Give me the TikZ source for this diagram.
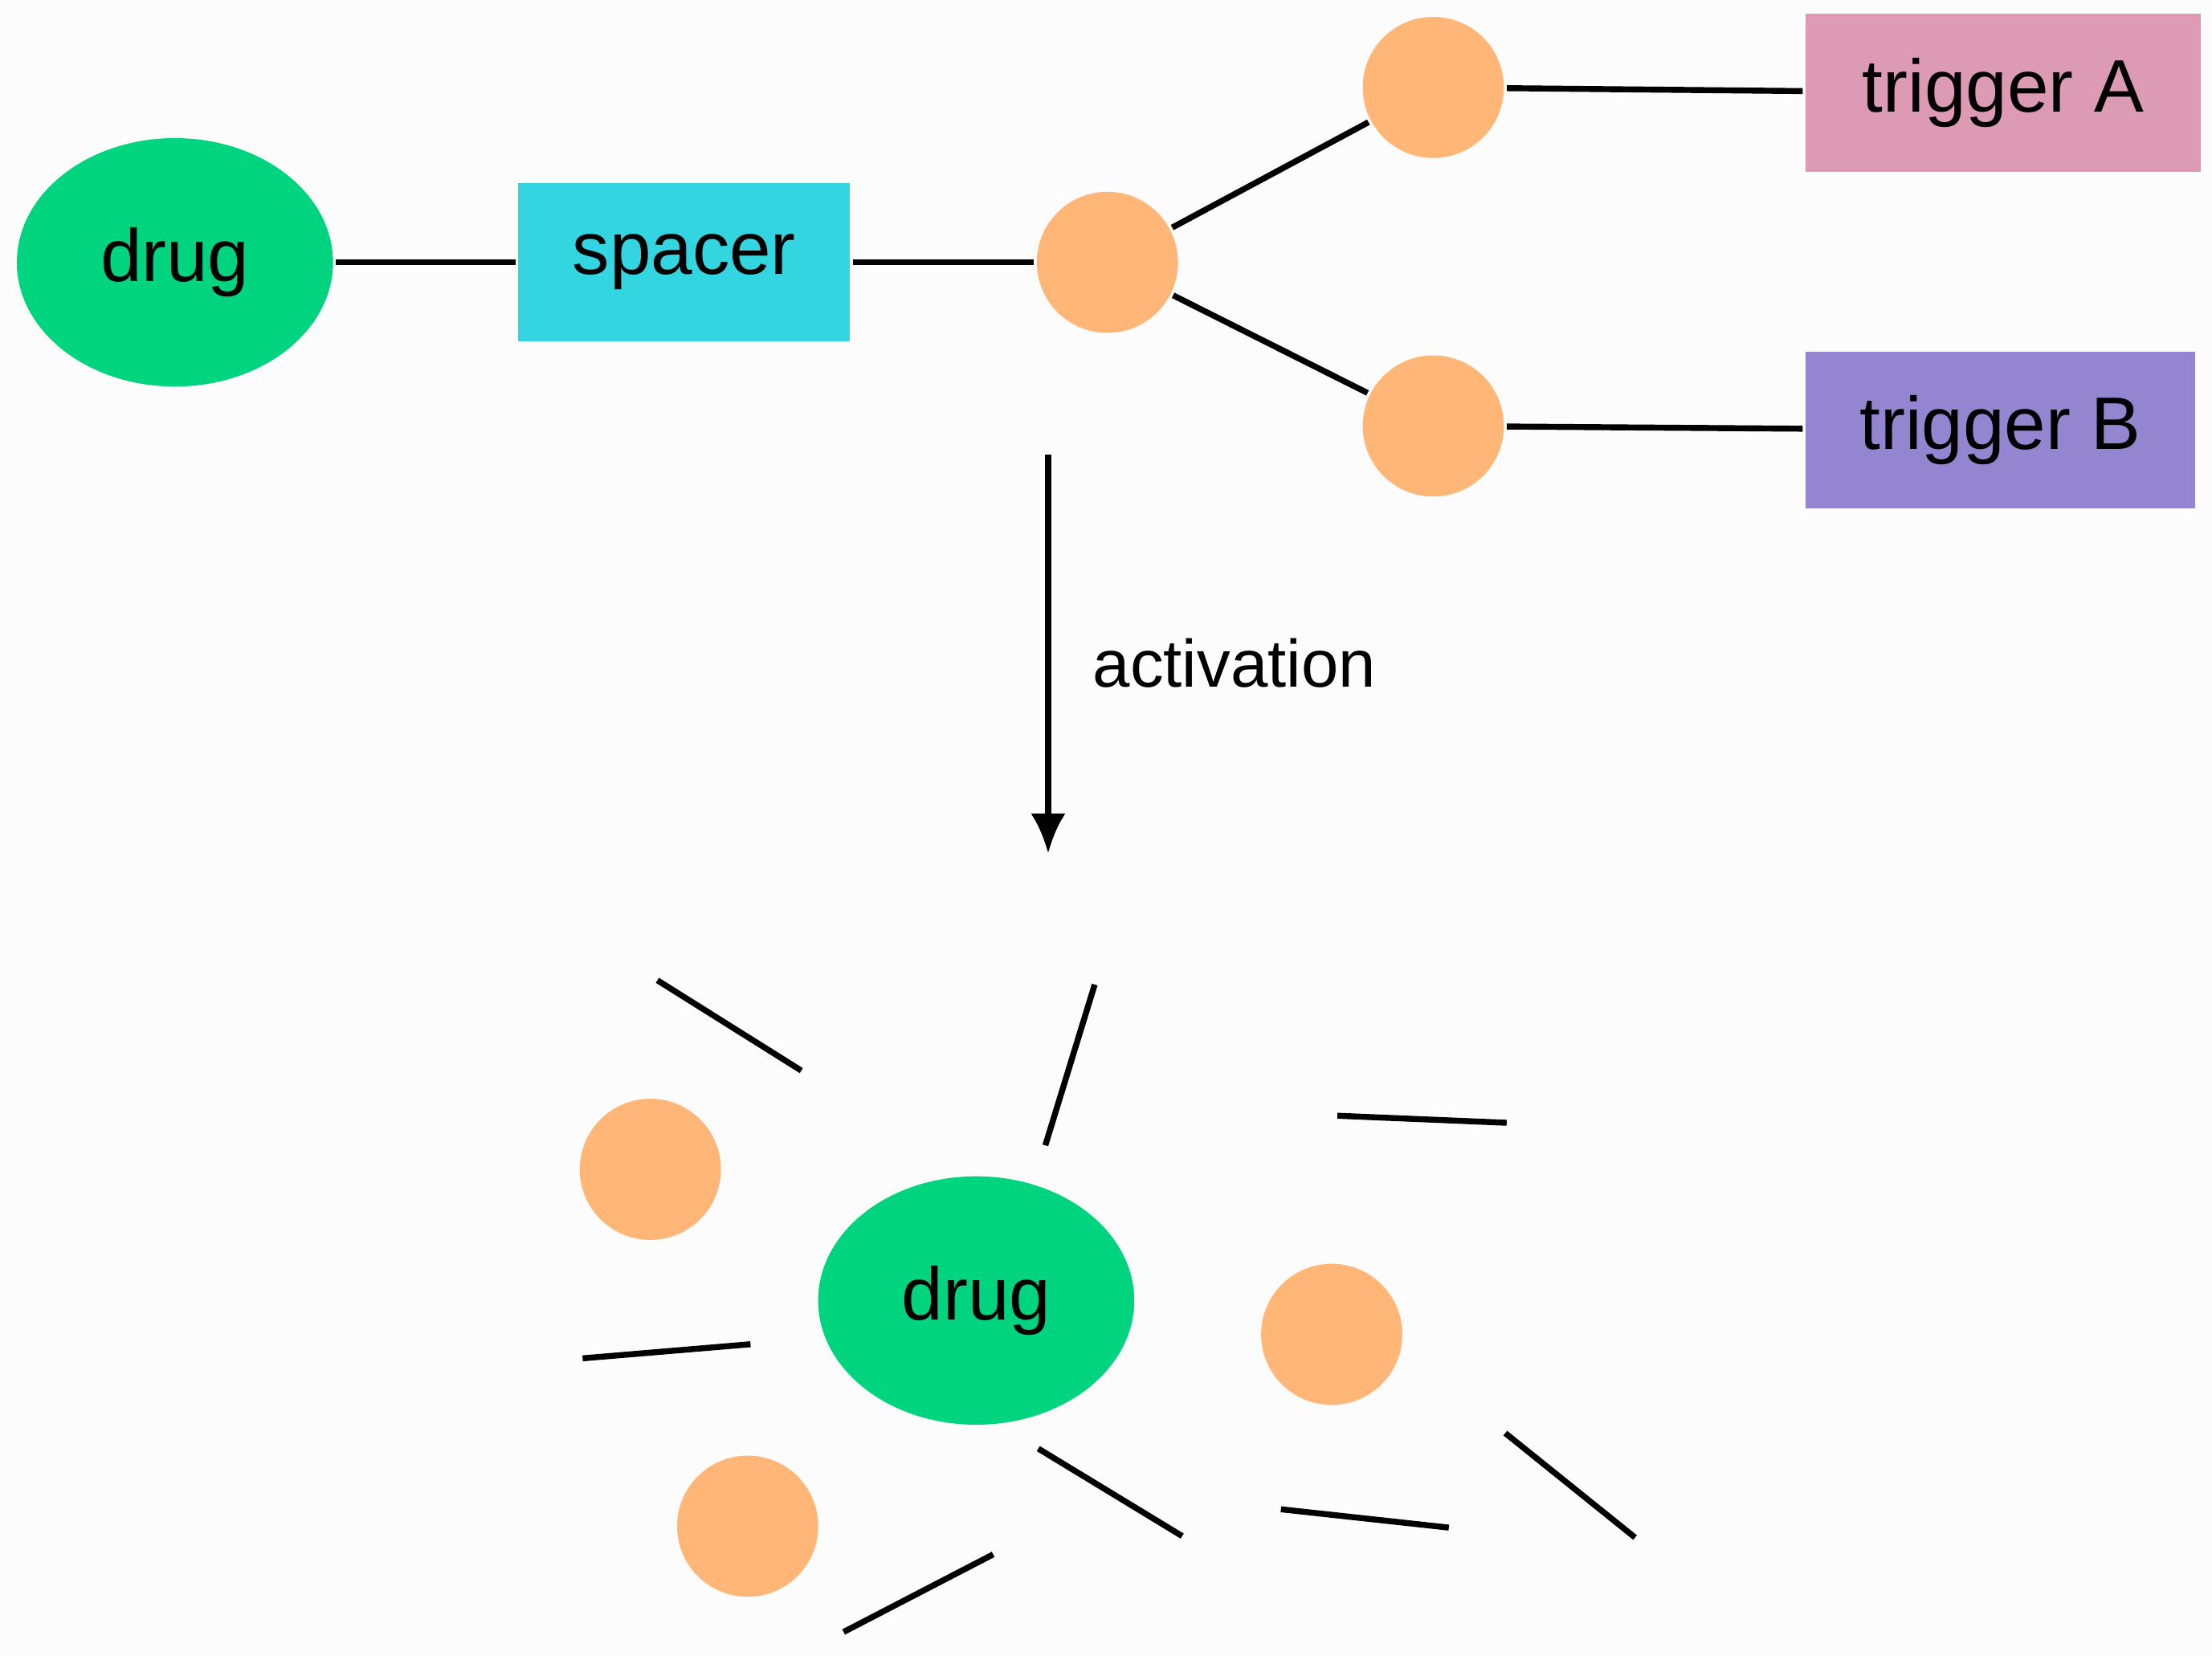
\documentclass[tikz,border=0pt]{standalone}
\usepackage{fontspec}
\setmainfont{Liberation Sans}
\usetikzlibrary{arrows.meta,shapes.geometric}
\definecolor{druggreen}{HTML}{00D47E}
\definecolor{spacercyan}{HTML}{33D6E0}
\definecolor{linkorange}{HTML}{FFB677}
\definecolor{trigpink}{HTML}{DC9AB4}
\definecolor{trigpurple}{HTML}{9485D0}
\begin{document}
\begin{tikzpicture}[x=0.01cm,y=-0.01cm,line width=1.2pt,
	drug/.style={ellipse,fill=druggreen,minimum width=2.24cm,minimum height=1.76cm,inner sep=0pt,font=\fontsize{15}{18}\selectfont},
	link/.style={circle,fill=linkorange,minimum size=1cm,inner sep=0pt},
	box/.style={rectangle,inner sep=0pt,font=\fontsize{15}{18}\selectfont}]
	\fill[fill={rgb,255:red,252;green,252;blue,252}] (0,0) rectangle (1568,1174);
	\useasboundingbox (0,0) rectangle (1568,1174);
	% intact conjugate
	\node[drug] (drug) at (124,186) {drug};
	\node[box,fill=spacercyan,minimum width=2.35cm,minimum height=1.12cm] (spacer) at (485,186) {spacer};
	\node[link] (hub) at (785,186) {};
	\node[link] (linkA) at (1016,62) {};
	\node[link] (linkB) at (1016,302) {};
	\node[box,fill=trigpink,minimum width=2.8cm,minimum height=1.12cm] (trigA) at (1420,66) {trigger A};
	\node[box,fill=trigpurple,minimum width=2.76cm,minimum height=1.11cm] (trigB) at (1418,305) {trigger B};
	\draw (drug) -- (spacer);
	\draw (spacer) -- (hub);
	\draw (hub) -- (linkA);
	\draw (hub) -- (linkB);
	\draw (linkA) -- (trigA);
	\draw (linkB) -- (trigB);
	% activation
	\coordinate (actTop) at (743,322);
	\coordinate (actBot) at (743,605);
	\draw[-{Latex[length=8pt,width=7pt]}] (actTop) -- (actBot);
	\node[font=\fontsize{13.5}{16}\selectfont] (actLabel) at (875,470) {activation};
	% released pieces
	\node[drug] (freeDrug) at (692,922) {drug};
	\node[link] (freeA) at (461,829) {};
	\node[link] (freeB) at (944,946) {};
	\node[link] (freeC) at (530,1082) {};
	\foreach \xa/\ya/\xb/\yb in {466/695/568/759, 776/698/741/812, 948/791/1068/796,
		413/963/532/953, 736/1027/838/1089, 908/1070/1027/1083,
		1067/1016/1159/1090, 598/1157/704/1102}
		\draw (\xa,\ya) -- (\xb,\yb);
\end{tikzpicture}
\end{document}
